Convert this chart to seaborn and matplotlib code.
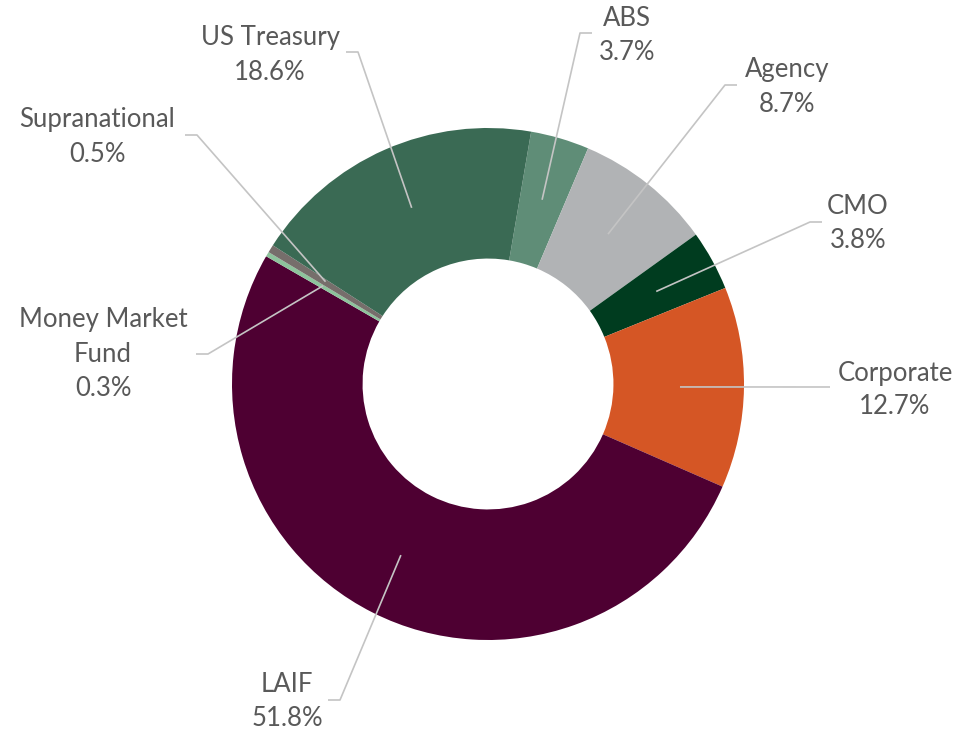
import numpy as np
import matplotlib
matplotlib.use('Agg')
import matplotlib.pyplot as plt
import seaborn as sns

# Data (clockwise from just right of 12 o'clock)
categories = ['ABS', 'Agency', 'CMO', 'Corporate', 'LAIF',
              'Money Market\nFund', 'Supranational', 'US Treasury']
shares = [3.7, 8.7, 3.8, 12.7, 51.8, 0.3, 0.5, 18.6]
colors = ['#5f8d77', '#b1b3b5', '#003c1f', '#d55625', '#4e0032',
          '#8dc39c', '#766e6b', '#3a6a54']

sns.set_theme(style='white')
plt.rcParams['font.family'] = ['Lato', 'DejaVu Sans']

W, H = 980, 734
CX, CY, R = 488, 384, 256   # donut centre / radius in pixels

fig = plt.figure(figsize=(W / 100, H / 100), dpi=100)
ax = fig.add_axes([0, 0, 1, 1])

start = 90 - 9.7
ax.pie(shares, colors=colors, startangle=start, counterclock=False,
       radius=1, wedgeprops=dict(width=0.51, linewidth=0))

ax.set_xlim(-CX / R, (W - CX) / R)
ax.set_ylim(-(H - CY) / R, CY / R)
ax.set_aspect('equal')
ax.axis('off')


def px(x, y):
    return (x - CX) / R, (CY - y) / R


# label block centre (px) and leader-line points from label side (px)
label_pos = {
    'ABS': (627, 35, [(592, 33), (580, 33)]),
    'Agency': (787, 87, [(737, 85), (725, 85)]),
    'CMO': (858, 224, [(822, 222), (810, 222)]),
    'Corporate': (895, 390, [(830, 387)]),
    'LAIF': (287, 702, [(328, 700), (340, 700)]),
    'Money Market\nFund': (103, 354, [(196, 354), (208, 354)]),
    'Supranational': (97, 137, [(185, 135), (197, 135)]),
    'US Treasury': (270, 55, [(346, 52), (358, 52)]),
}

pitch = 34
cum = np.cumsum([0] + shares[:-1])
for cat, val, c0 in zip(categories, shares, cum):
    mid = np.deg2rad(9.7 + (c0 + val / 2) * 3.6)
    ax_, ay_ = 0.75 * np.sin(mid), 0.75 * np.cos(mid)
    lx, ly, pts = label_pos[cat]
    xs = [px(*p)[0] for p in pts] + [ax_]
    ys = [px(*p)[1] for p in pts] + [ay_]
    ax.plot(xs, ys, color='#c4c4c4', lw=1.2, solid_capstyle='butt', zorder=3)
    lines = cat.split('\n') + [f'{val:.1f}%']
    n = len(lines)
    for i, t in enumerate(lines):
        yy = ly + (i - (n - 1) / 2) * pitch
        tx, ty = px(lx, yy)
        ax.text(tx, ty, t, ha='center', va='center', fontsize=18.5,
                color='#595959')

fig.savefig('out.png', dpi=100)
